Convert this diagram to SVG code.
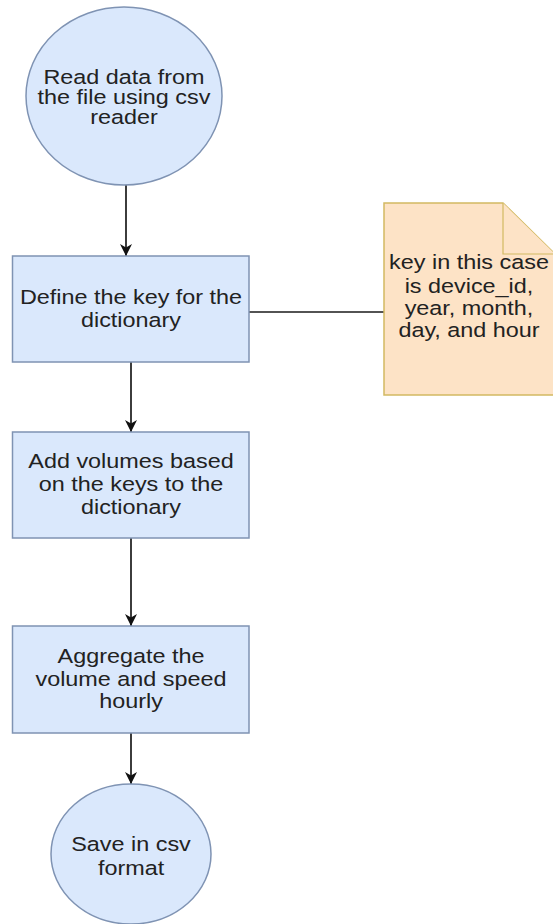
<svg xmlns="http://www.w3.org/2000/svg" width="553" height="924" viewBox="0 0 553 924">
<defs>
<style>
.proc{fill:#dae8fc;stroke:#7f93b3;stroke-width:1.5}
.note{fill:#fde3c6;stroke:#d2b962;stroke-width:1.5}
.fold{fill:#fde3c6;stroke:#d2b962;stroke-width:1.2}
.lbl{font-family:"Liberation Sans",Arial,sans-serif;font-size:19.5px;fill:#222;text-anchor:middle}
.edge{stroke:#1a1a1a;stroke-width:1.7;fill:none}
</style>
<marker id="arr" viewBox="0 0 10 10" refX="10" refY="5" markerWidth="12" markerHeight="12" markerUnits="userSpaceOnUse" orient="auto">
<path d="M0,0 L10,5 L0,10 L3,5 Z" fill="#111"/>
</marker>
</defs>
<rect width="553" height="924" fill="#fff"/>
<g id="connectors">
<line class="edge" x1="126" y1="185" x2="126" y2="256" marker-end="url(#arr)"/>
<line class="edge" x1="131" y1="362" x2="131" y2="432" marker-end="url(#arr)"/>
<line class="edge" x1="131" y1="538" x2="131" y2="626" marker-end="url(#arr)"/>
<line class="edge" x1="131" y1="733" x2="131" y2="784" marker-end="url(#arr)"/>
<line class="edge" x1="249" y1="312" x2="384" y2="312"/>
</g>
<g id="n1">
<ellipse class="proc" cx="124" cy="96" rx="98" ry="89"/>
<text class="lbl" transform="translate(124,0) scale(1.2,1)"><tspan x="0" y="84">Read data from</tspan><tspan x="0" y="104">the file using csv</tspan><tspan x="0" y="124">reader</tspan></text>
</g>
<g id="n2">
<rect class="proc" x="12.5" y="256" width="236.5" height="106"/>
<text class="lbl" transform="translate(131,0) scale(1.2,1)"><tspan x="0" y="304">Define the key for the</tspan><tspan x="0" y="327">dictionary</tspan></text>
</g>
<g id="note">
<path class="note" d="M384,203 L503,203 L555,254 L555,395 L384,395 Z"/>
<path class="fold" d="M503,203 L503,254 L555,254"/>
<text class="lbl" transform="translate(469,0) scale(1.2,1)"><tspan x="0" y="269">key in this case</tspan><tspan x="0" y="293">is device_id,</tspan><tspan x="0" y="315">year, month,</tspan><tspan x="0" y="337">day, and hour</tspan></text>
</g>
<g id="n3">
<rect class="proc" x="12.5" y="432" width="236.5" height="106"/>
<text class="lbl" transform="translate(131,0) scale(1.2,1)"><tspan x="0" y="468">Add volumes based</tspan><tspan x="0" y="491">on the keys to the</tspan><tspan x="0" y="514">dictionary</tspan></text>
</g>
<g id="n4">
<rect class="proc" x="12.5" y="626" width="236.5" height="107"/>
<text class="lbl" transform="translate(131,0) scale(1.2,1)"><tspan x="0" y="663">Aggregate the</tspan><tspan x="0" y="686">volume and speed</tspan><tspan x="0" y="708">hourly</tspan></text>
</g>
<g id="n5">
<ellipse class="proc" cx="131" cy="854" rx="80" ry="70"/>
<text class="lbl" transform="translate(131,0) scale(1.2,1)"><tspan x="0" y="851">Save in csv</tspan><tspan x="0" y="875">format</tspan></text>
</g>
</svg>
